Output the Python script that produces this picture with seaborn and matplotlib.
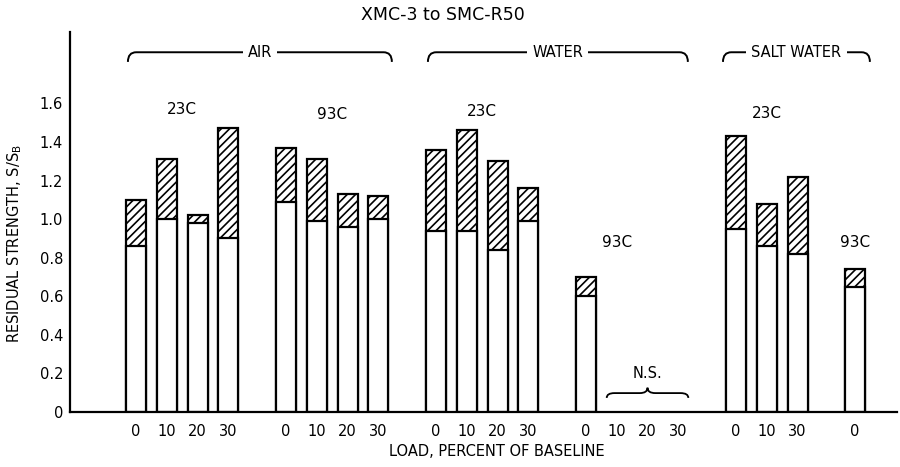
import numpy as np
import pandas as pd
import matplotlib
matplotlib.use("Agg")
import matplotlib.pyplot as plt
from matplotlib.path import Path
from matplotlib.patches import PathPatch
import seaborn as sns

# ---------------- data ----------------
air_23c_loads = ["0", "10", "20", "30"]
air_23c_total = [1.10, 1.31, 1.02, 1.47]
air_23c_base = [0.86, 1.00, 0.98, 0.90]

air_93c_loads = ["0", "10", "20", "30"]
air_93c_total = [1.37, 1.31, 1.13, 1.12]
air_93c_base = [1.09, 0.99, 0.96, 1.00]

water_23c_loads = ["0", "10", "20", "30"]
water_23c_total = [1.36, 1.46, 1.30, 1.16]
water_23c_base = [0.94, 0.94, 0.84, 0.99]

water_93c_loads = ["0"]
water_93c_total = [0.70]
water_93c_base = [0.60]
water_93c_ns_loads = ["10", "20", "30"]   # N.S. (no bars)

salt_23c_loads = ["0", "10", "30"]
salt_23c_total = [1.43, 1.08, 1.22]
salt_23c_base = [0.95, 0.86, 0.82]

salt_93c_loads = ["0"]
salt_93c_total = [0.74]
salt_93c_base = [0.65]

y_ticks = [0, 0.2, 0.4, 0.6, 0.8, 1.0, 1.2, 1.4, 1.6]
y_ticklabels = ["0", "0.2", "0.4", "0.6", "0.8", "1.0", "1.2", "1.4", "1.6"]

title = "XMC-3 to SMC-R50"
xlabel = "LOAD, PERCENT OF BASELINE"
ylabel = "RESIDUAL STRENGTH, S/S$_\\mathregular{B}$"

# ---------------- layout of slots ----------------
GROUP_STEP = 1.87  # distance between last slot of a group and first of next
groups = [
    ("air", "23C", air_23c_loads, air_23c_total, air_23c_base, []),
    ("air", "93C", air_93c_loads, air_93c_total, air_93c_base, []),
    ("water", "23C", water_23c_loads, water_23c_total, water_23c_base, []),
    ("water", "93C", water_93c_loads, water_93c_total, water_93c_base, water_93c_ns_loads),
    ("salt", "23C", salt_23c_loads, salt_23c_total, salt_23c_base, []),
    ("salt", "93C", salt_93c_loads, salt_93c_total, salt_93c_base, []),
]

rows = []
tick_pos, tick_lab = [], []
ns_pos = []
group_pos = []
start = 0.0
for env, temp, loads, tot, base, ns in groups:
    n = len(loads) + len(ns)
    pos = start + np.arange(n)
    group_pos.append(pos)
    for i, (ld, t, b) in enumerate(zip(loads, tot, base)):
        rows.append(dict(pos=round(pos[i], 3), total=t, base=b, env=env, temp=temp, load=ld))
    for j, ld in enumerate(ns):
        ns_pos.append(pos[len(loads) + j])
    tick_pos.extend(pos)
    tick_lab.extend(list(loads) + list(ns))
    start = pos[-1] + GROUP_STEP

df = pd.DataFrame(rows)

# ---------------- figure ----------------
sns.set_style("white")
plt.rcParams["font.family"] = ["DejaVu Sans"]
plt.rcParams["hatch.linewidth"] = 1.2
plt.rcParams["text.color"] = "black"
plt.rcParams["axes.labelcolor"] = "black"
plt.rcParams["xtick.color"] = "black"
plt.rcParams["ytick.color"] = "black"

fig = plt.figure(figsize=(9, 4.67), dpi=100)
ax = fig.add_axes([70 / 900, 55 / 467, 827 / 900, 380 / 467])

BAR_W = 0.65
sns.barplot(data=df, x="pos", y="total", native_scale=True, width=BAR_W,
            color="white", saturation=1, edgecolor="black", linewidth=1.6,
            hatch="////", errorbar=None, ax=ax)
sns.barplot(data=df, x="pos", y="base", native_scale=True, width=BAR_W,
            color="white", saturation=1, edgecolor="black", linewidth=1.6,
            errorbar=None, ax=ax)

ax.set_xlim(-2.14, 24.71)
ax.set_ylim(0, 1.97)
ax.set_xlabel("")
ax.set_ylabel("")

for s in ["top", "right"]:
    ax.spines[s].set_visible(False)
for s in ["left", "bottom"]:
    ax.spines[s].set_linewidth(1.6)
    ax.spines[s].set_color("black")

ax.set_xticks(tick_pos)
ax.set_xticklabels(tick_lab)
ax.tick_params(axis="x", which="major", length=0, pad=9, labelsize=10.5, labelcolor="black")
edges = []
for p in ns_pos:
    edges += [p - BAR_W / 2, p + BAR_W / 2]
ax.set_xticks(edges, minor=True)
ax.tick_params(axis="x", which="minor", direction="in", length=5, width=1.2, color="black")

ax.set_yticks(y_ticks)
ax.set_yticklabels(y_ticklabels)
ax.tick_params(axis="y", direction="in", length=9, width=1.3, pad=5, labelsize=10.5,
               color="black", labelcolor="black")
ax.set_axisbelow(True)

# temperature labels
temp_xy = [
    (np.mean(group_pos[0]), 1.57),
    (np.mean(group_pos[1]), 1.54),
    (np.mean(group_pos[2]), 1.56),
    (group_pos[3][1], 0.88),
    (np.mean(group_pos[4]), 1.55),
    (group_pos[5][0], 0.88),
]
for (x, y), g in zip(temp_xy, groups):
    ax.text(x, y, g[1], ha="center", va="center", fontsize=11, color="black")


def top_brace(x0, x1, y, label, r=0.27, d=0.05):
    verts = [(x0, y - d), (x0, y), (x0 + r, y), (x1 - r, y), (x1, y), (x1, y - d)]
    codes = [Path.MOVETO, Path.CURVE3, Path.CURVE3, Path.LINETO, Path.CURVE3, Path.CURVE3]
    ax.add_patch(PathPatch(Path(verts, codes), fill=False, lw=1.4, color="black",
                           clip_on=False, zorder=3))
    ax.text((x0 + x1) / 2, y, label, ha="center", va="center", fontsize=10.5, zorder=4,
            color="black", bbox=dict(boxstyle="square,pad=0.35", fc="white", ec="none"))


top_brace(-0.26, 8.31, 1.865, "AIR")
top_brace(9.48, 17.92, 1.865, "WATER")
top_brace(19.06, 23.83, 1.865, "SALT WATER")

# N.S. curly brace
x0, x1 = ns_pos[0] - BAR_W / 2, ns_pos[-1] + BAR_W / 2
xm = (x0 + x1) / 2
yb, d, h, r = 0.098, 0.025, 0.028, 0.25
verts = [(x0, yb - d), (x0, yb), (x0 + r, yb), (xm - r, yb), (xm, yb), (xm, yb + h),
         (xm, yb), (xm + r, yb), (x1 - r, yb), (x1, yb), (x1, yb - d)]
codes = [Path.MOVETO, Path.CURVE3, Path.CURVE3, Path.LINETO, Path.CURVE3, Path.CURVE3,
         Path.CURVE3, Path.CURVE3, Path.LINETO, Path.CURVE3, Path.CURVE3]
ax.add_patch(PathPatch(Path(verts, codes), fill=False, lw=1.3, color="black", zorder=3))
ax.text(xm, 0.197, "N.S.", ha="center", va="center", fontsize=10.5, color="black")

fig.text(443 / 900, 1 - 15 / 467, title, ha="center", va="center", fontsize=12.5, color="black")
fig.text(497 / 900, 1 - 452 / 467, xlabel, ha="center", va="center", fontsize=10.5, color="black")
fig.text(15 / 900, 1 - 244 / 467, ylabel, ha="center", va="center", rotation=90,
         fontsize=10.5, color="black")

fig.savefig("out.png", dpi=100)
